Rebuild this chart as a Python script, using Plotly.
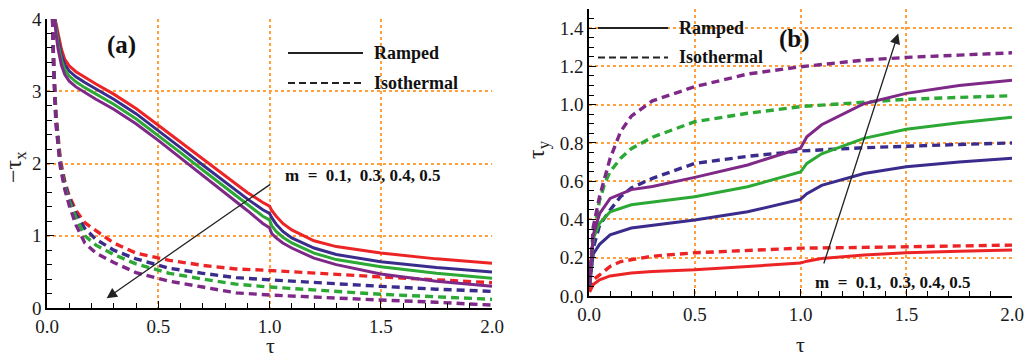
import plotly.graph_objects as go

# ---------------- Panel (a): -tau_x ----------------
tau_a_ramped = [0.035, 0.04, 0.05, 0.065, 0.08, 0.1, 0.13, 0.17, 0.22, 0.3, 0.4, 0.5, 0.6, 0.7, 0.8,
                0.9, 0.97, 1.0, 1.01, 1.03, 1.06, 1.1, 1.2, 1.3, 1.5, 1.75, 2.0]
a_ramped_m01 = [4.0, 3.95, 3.8, 3.58, 3.44, 3.35, 3.27, 3.19, 3.1, 2.96, 2.76, 2.53, 2.3, 2.07, 1.83,
                1.6, 1.46, 1.41, 1.35, 1.27, 1.17, 1.08, 0.93, 0.85, 0.76, 0.68, 0.62]
a_ramped_m03 = [4.0, 3.9, 3.72, 3.5, 3.37, 3.28, 3.2, 3.12, 3.03, 2.89, 2.69, 2.46, 2.22, 1.98, 1.74,
                1.51, 1.36, 1.31, 1.25, 1.16, 1.06, 0.97, 0.83, 0.74, 0.64, 0.56, 0.50]
a_ramped_m04 = [4.0, 3.85, 3.65, 3.43, 3.3, 3.21, 3.13, 3.05, 2.96, 2.82, 2.62, 2.39, 2.15, 1.91, 1.67,
                1.43, 1.27, 1.22, 1.14, 1.06, 0.98, 0.9, 0.76, 0.67, 0.57, 0.48, 0.41]
a_ramped_m05 = [4.0, 3.8, 3.58, 3.36, 3.23, 3.14, 3.06, 2.98, 2.89, 2.75, 2.55, 2.32, 2.08, 1.84, 1.59,
                1.35, 1.17, 1.11, 1.03, 0.97, 0.9, 0.83, 0.69, 0.6, 0.47, 0.37, 0.30]

tau_a_iso = [0.025, 0.03, 0.04, 0.06, 0.08, 0.1, 0.13, 0.17, 0.22, 0.3, 0.4, 0.55, 0.7, 0.85, 1.0,
             1.25, 1.5, 1.75, 2.0]
a_iso_m01 = [4.0, 3.4, 2.7, 2.05, 1.75, 1.55, 1.35, 1.18, 1.07, 0.9, 0.76, 0.66, 0.59, 0.54, 0.52,
             0.47, 0.43, 0.39, 0.35]
a_iso_m03 = [4.0, 3.35, 2.65, 2.0, 1.72, 1.52, 1.3, 1.1, 0.95, 0.8, 0.68, 0.55, 0.48, 0.42, 0.39,
             0.34, 0.30, 0.26, 0.23]
a_iso_m04 = [4.0, 3.3, 2.6, 1.98, 1.68, 1.48, 1.25, 1.0, 0.87, 0.74, 0.61, 0.48, 0.40, 0.33, 0.29,
             0.24, 0.19, 0.155, 0.12]
a_iso_m05 = [4.0, 3.3, 2.55, 1.95, 1.64, 1.42, 1.15, 0.9, 0.76, 0.63, 0.49, 0.37, 0.29, 0.21, 0.18,
             0.14, 0.11, 0.08, 0.04]

# ---------------- Panel (b): tau_y ----------------
tau_b_ramped = [0.003, 0.02, 0.05, 0.1, 0.2, 0.3, 0.5, 0.75, 1.0, 1.03, 1.1, 1.3, 1.5, 1.75, 2.0]
b_ramped_m01 = [0.02, 0.06, 0.085, 0.105, 0.12, 0.128, 0.137, 0.153, 0.172, 0.182, 0.196, 0.214, 0.226, 0.234, 0.24]
b_ramped_m03 = [0.05, 0.22, 0.27, 0.32, 0.355, 0.37, 0.397, 0.44, 0.505, 0.535, 0.578, 0.64, 0.675, 0.70, 0.72]
b_ramped_m04 = [0.06, 0.3, 0.38, 0.44, 0.477, 0.49, 0.519, 0.571, 0.648, 0.693, 0.743, 0.824, 0.871, 0.905, 0.934]
b_ramped_m05 = [0.06, 0.32, 0.43, 0.51, 0.556, 0.572, 0.62, 0.685, 0.772, 0.832, 0.895, 1.005, 1.059, 1.10, 1.128]

tau_b_iso = [0.003, 0.02, 0.05, 0.075, 0.1, 0.15, 0.2, 0.3, 0.5, 0.75, 1.0, 1.3, 1.5, 1.75, 2.0]
b_iso_m01 = [0.03, 0.085, 0.11, 0.135, 0.155, 0.18, 0.19, 0.208, 0.226, 0.24, 0.25, 0.254, 0.257, 0.262, 0.266]
b_iso_m03 = [0.06, 0.25, 0.37, 0.41, 0.45, 0.52, 0.565, 0.615, 0.693, 0.73, 0.758, 0.775, 0.784, 0.792, 0.80]
b_iso_m04 = [0.07, 0.32, 0.5, 0.59, 0.65, 0.72, 0.77, 0.83, 0.911, 0.955, 0.99, 1.015, 1.028, 1.038, 1.047]
b_iso_m05 = [0.08, 0.36, 0.52, 0.62, 0.72, 0.86, 0.94, 1.02, 1.094, 1.16, 1.198, 1.233, 1.247, 1.259, 1.271]

m_label = "m  =  0.1,  0.3, 0.4, 0.5"
x_ticks = [0.0, 0.5, 1.0, 1.5, 2.0]
x_ticktext = ["0.0", "0.5", "1.0", "1.5", "2.0"]
ya_ticks = [0, 1, 2, 3, 4]
yb_ticks = [0.0, 0.2, 0.4, 0.6, 0.8, 1.0, 1.2, 1.4]

# ---------------- styling ----------------
W, H = 1027, 360
RED = "rgb(237,36,38)"
BLUE = "rgb(58,44,140)"
GREEN = "rgb(44,168,52)"
PURPLE = "rgb(126,40,136)"
GRID = "rgb(255,160,60)"
SERIF = "Liberation Serif"
TICKFONT = dict(family=SERIF, size=19, color="#1a1a1a")

def px2x(px):
    return px / W

def py2y(py):
    return 1 - py / H

fig = go.Figure()

colors = [RED, BLUE, GREEN, PURPLE]
for ys, c in zip([a_iso_m01, a_iso_m03, a_iso_m04, a_iso_m05], colors):
    fig.add_trace(go.Scatter(x=tau_a_iso, y=ys, mode="lines", xaxis="x", yaxis="y",
                             line=dict(color=c, width=3.4, dash="8px,5px"), showlegend=False))
for ys, c in zip([a_ramped_m01, a_ramped_m03, a_ramped_m04, a_ramped_m05], colors):
    fig.add_trace(go.Scatter(x=tau_a_ramped, y=ys, mode="lines", xaxis="x", yaxis="y",
                             line=dict(color=c, width=3), showlegend=False))
for ys, c in zip([b_iso_m01, b_iso_m03, b_iso_m04, b_iso_m05], colors):
    fig.add_trace(go.Scatter(x=tau_b_iso, y=ys, mode="lines", xaxis="x2", yaxis="y2",
                             line=dict(color=c, width=3.4, dash="8px,5px"), showlegend=False))
for ys, c in zip([b_ramped_m01, b_ramped_m03, b_ramped_m04, b_ramped_m05], colors):
    fig.add_trace(go.Scatter(x=tau_b_ramped, y=ys, mode="lines", xaxis="x2", yaxis="y2",
                             line=dict(color=c, width=3), showlegend=False))

axis_common = dict(showline=True, linecolor="black", linewidth=1.6, mirror=False, automargin=False,
                   ticks="inside", ticklen=7, tickwidth=1.3, tickcolor="black",
                   showgrid=True, gridcolor=GRID, gridwidth=1.6, griddash="dot",
                   zeroline=False, tickfont=TICKFONT)

fig.update_layout(
    width=W, height=H, margin=dict(l=0, r=0, t=0, b=0, autoexpand=False),
    paper_bgcolor="white", plot_bgcolor="white", showlegend=False,
    xaxis=dict(domain=[px2x(47), px2x(492)], range=[0, 2], tickvals=x_ticks, ticktext=x_ticktext,
               anchor="y", minor=dict(dtick=0.1, tick0=0, ticks="inside", ticklen=5, tickcolor="black", showgrid=False),
               **axis_common),
    yaxis=dict(domain=[py2y(308), py2y(19)], range=[0, 4], tickvals=ya_ticks, anchor="x",
               minor=dict(dtick=0.2, tick0=0, ticks="inside", ticklen=5, tickcolor="black", showgrid=False),
               **axis_common),
    xaxis2=dict(domain=[px2x(589), px2x(1012)], range=[0, 2], tickvals=x_ticks, ticktext=x_ticktext,
                anchor="y2", minor=dict(dtick=0.1, tick0=0, ticks="inside", ticklen=5, tickcolor="black", showgrid=False),
                **axis_common),
    yaxis2=dict(domain=[py2y(296), py2y(9)], range=[0, 1.5], tickvals=yb_ticks, tickformat=".1f", anchor="x2",
                minor=dict(dtick=0.05, tick0=0, ticks="inside", ticklen=5, tickcolor="black", showgrid=False),
                **axis_common),
)

# legend samples (decoration)
shapes = []
for (x0, x1, ys, yd) in [(288, 363, 53, 83), (598, 668, 28, 57.5)]:
    shapes.append(dict(type="line", xref="paper", yref="paper", x0=px2x(x0), x1=px2x(x1),
                       y0=py2y(ys), y1=py2y(ys), line=dict(color="#222", width=2)))
    shapes.append(dict(type="line", xref="paper", yref="paper", x0=px2x(x0), x1=px2x(x1),
                       y0=py2y(yd), y1=py2y(yd), line=dict(color="#222", width=2, dash="7px,4px")))
fig.update_layout(shapes=shapes)

def txt(text, px, py, size, xanchor="center", angle=0, color="#111"):
    return dict(text=text, xref="paper", yref="paper", x=px2x(px), y=py2y(py), xanchor=xanchor,
                yanchor="middle", textangle=angle, showarrow=False,
                font=dict(family=SERIF, size=size, color=color))

ann = []
for (xt, ys, yd) in [(372, 53, 83), (677, 28, 57.5)]:
    ann.append(txt("<b>Ramped</b>", xt, ys, 18, "left"))
    ann.append(txt("<b>Isothermal</b>", xt, yd, 18, "left"))

ann.append(txt("<b>(a)</b>", 121, 45, 25))
ann.append(txt("<b>(b)</b>", 794, 39, 25))

# arrows with m label
ann.append(dict(x=0.268, y=0.134, ax=1.01, ay=1.726, xref="x", yref="y", axref="x", ayref="y",
                showarrow=True, arrowhead=2, arrowsize=1.6, arrowwidth=1.3, arrowcolor="#222", text=""))
ann.append(dict(text="<b>" + m_label + "</b>", x=1.06, y=1.84, xref="x", yref="y", xanchor="left",
                yanchor="middle", showarrow=False, font=dict(family=SERIF, size=17, color="#111")))
ann.append(dict(x=1.462, y=1.372, ax=1.108, ay=0.162, xref="x2", yref="y2", axref="x2", ayref="y2",
                showarrow=True, arrowhead=2, arrowsize=1.6, arrowwidth=1.3, arrowcolor="#222", text=""))
ann.append(txt("<b>" + m_label + "</b>", 813, 282, 17, "left"))

# axis titles
ann.append(txt("τ", 270, 345, 22, color="#222"))
ann.append(txt("τ", 800, 344, 22, color="#222"))
ann.append(txt("−τ<sub>x</sub>", 15, 167, 24, angle=-90, color="#222"))
ann.append(txt("τ<sub>y</sub>", 538, 150, 24, angle=-90, color="#222"))
fig.update_layout(annotations=ann)

fig.write_html("out.html")
